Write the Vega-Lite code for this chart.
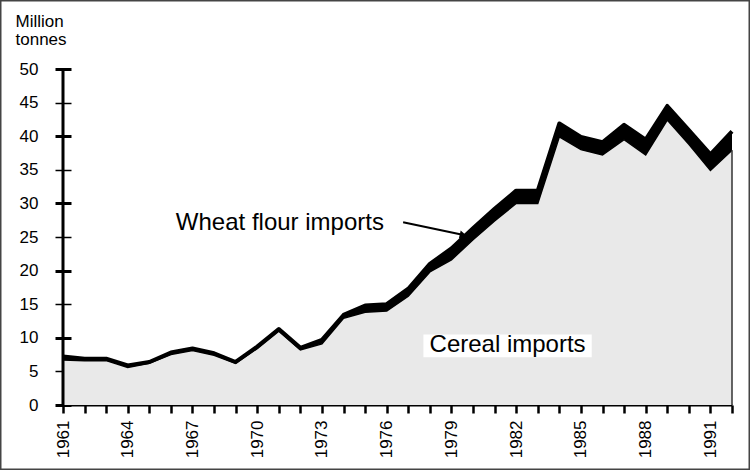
{
  "$schema": "https://vega.github.io/schema/vega-lite/v6.json",
  "width": 750,
  "height": 470,
  "autosize": "none",
  "padding": 0,
  "background": "white",
  "config": {
    "view": {"stroke": "#444444", "strokeWidth": 3},
    "font": "Liberation Sans",
    "axis": {"labelOverlap": false, "labelFlush": false, "labelBound": false, "grid": false}
  },
  "data": {"values": [
    {"year": 1961, "total": 7.2, "cereal": 6.7},
    {"year": 1962, "total": 6.9, "cereal": 6.6},
    {"year": 1963, "total": 6.9, "cereal": 6.6},
    {"year": 1964, "total": 5.9, "cereal": 5.6},
    {"year": 1965, "total": 6.4, "cereal": 6.2},
    {"year": 1966, "total": 7.8, "cereal": 7.5},
    {"year": 1967, "total": 8.4, "cereal": 8.1},
    {"year": 1968, "total": 7.7, "cereal": 7.4},
    {"year": 1969, "total": 6.4, "cereal": 6.2},
    {"year": 1970, "total": 8.7, "cereal": 8.4},
    {"year": 1971, "total": 11.3, "cereal": 11.0},
    {"year": 1972, "total": 8.5, "cereal": 8.2},
    {"year": 1973, "total": 9.7, "cereal": 9.1},
    {"year": 1974, "total": 13.4, "cereal": 12.9},
    {"year": 1975, "total": 14.8, "cereal": 13.8},
    {"year": 1976, "total": 15.0, "cereal": 14.0},
    {"year": 1977, "total": 17.3, "cereal": 16.2},
    {"year": 1978, "total": 21.0, "cereal": 19.8},
    {"year": 1979, "total": 23.3, "cereal": 21.6},
    {"year": 1980, "total": 26.3, "cereal": 24.6},
    {"year": 1981, "total": 29.2, "cereal": 27.4},
    {"year": 1982, "total": 31.9, "cereal": 30.0},
    {"year": 1983, "total": 31.9, "cereal": 30.0},
    {"year": 1984, "total": 41.9, "cereal": 39.9},
    {"year": 1985, "total": 39.9, "cereal": 38.0},
    {"year": 1986, "total": 39.1, "cereal": 37.2},
    {"year": 1987, "total": 41.7, "cereal": 39.5},
    {"year": 1988, "total": 39.5, "cereal": 37.2},
    {"year": 1989, "total": 44.5, "cereal": 42.4},
    {"year": 1990, "total": 40.9, "cereal": 38.8},
    {"year": 1991, "total": 37.3, "cereal": 34.9},
    {"year": 1992, "total": 40.7, "cereal": 37.9}
  ]},
  "layer": [
    {
      "mark": {"type": "area", "color": "#e9e9e9"},
      "encoding": {
        "x": {"field": "year", "type": "quantitative",
          "scale": {"domain": [1961, 1992], "range": [63, 732], "nice": false, "zero": false},
          "axis": {"orient": "bottom", "offset": -65, "tickCount": 60,
            "values": [1961,1962,1963,1964,1965,1966,1967,1968,1969,1970,1971,1972,1973,1974,1975,1976,1977,1978,1979,1980,1981,1982,1983,1984,1985,1986,1987,1988,1989,1990,1991,1992],
            "format": "d",
            "labelExpr": "(datum.value - 1961) % 3 === 0 ? datum.label : ''",
            "labelAngle": -90, "labelFontSize": 17, "labelColor": "black", "labelPadding": 7,
            "labelOverlap": false, "labelFlush": false, "labelBound": false,
            "tickSize": 8, "tickWidth": 2.5, "tickColor": "black",
            "domainWidth": 2, "domainColor": "black", "grid": false, "title": null}},
        "y": {"field": "cereal", "type": "quantitative",
          "scale": {"domain": [0, 50], "range": [405, 69], "nice": false},
          "axis": {"orient": "left", "offset": -71, "tickCount": 20,
            "values": [0,5,10,15,20,25,30,35,40,45,50],
            "labelFontSize": 17, "labelColor": "black", "labelPadding": 17,
            "tickSize": 16, "tickColor": "black",
            "tickWidth": {"condition": {"test": "datum.value % 10 === 0", "value": 3}, "value": 1.5},
            "domain": false, "grid": false,
            "title": ["Million", "tonnes"], "titleAngle": 0, "titleAlign": "left", "titleBaseline": "top",
            "titleX": -56, "titleY": 13, "titleFontSize": 17, "titleFontWeight": "normal",
            "titleColor": "black", "titleLineHeight": 18}}
      }
    },
    {
      "mark": {"type": "area", "color": "black"},
      "encoding": {
        "x": {"field": "year", "type": "quantitative"},
        "y": {"field": "cereal", "type": "quantitative"},
        "y2": {"field": "total"}
      }
    },
    {
      "mark": {"type": "line", "color": "black", "strokeWidth": 4, "strokeJoin": "round"},
      "encoding": {
        "x": {"field": "year", "type": "quantitative"},
        "y": {"field": "total", "type": "quantitative"}
      }
    },
    {
      "mark": {"type": "line", "color": "black", "strokeWidth": 1.5},
      "encoding": {
        "x": {"field": "year", "type": "quantitative"},
        "y": {"field": "cereal", "type": "quantitative"}
      }
    },
    {
      "transform": [{"filter": "datum.year == 1992"}],
      "mark": {"type": "rule", "color": "#333333", "strokeWidth": 1.5},
      "encoding": {
        "x": {"field": "year", "type": "quantitative"},
        "y": {"field": "cereal", "type": "quantitative"},
        "y2": {"datum": 0}
      }
    },
    {
      "data": {"values": [{}]},
      "mark": {"type": "rule", "color": "black", "strokeWidth": 3},
      "encoding": {
        "x": {"datum": 1961, "type": "quantitative"},
        "y": {"datum": 0, "type": "quantitative"},
        "y2": {"datum": 50}
      }
    },
    {
      "data": {"values": [{}]},
      "mark": {"type": "rect", "color": "white"},
      "encoding": {
        "x": {"datum": 1977.7, "type": "quantitative"},
        "x2": {"datum": 1985.5},
        "y": {"datum": 10.5, "type": "quantitative"},
        "y2": {"datum": 7.1}
      }
    },
    {
      "data": {"values": [{}]},
      "mark": {"type": "text", "text": "Cereal imports", "fontSize": 24, "color": "black", "align": "center", "baseline": "alphabetic"},
      "encoding": {
        "x": {"datum": 1981.6, "type": "quantitative"},
        "y": {"datum": 7.84, "type": "quantitative"}
      }
    },
    {
      "data": {"values": [{}]},
      "mark": {"type": "text", "text": "Wheat flour imports", "fontSize": 24, "color": "black", "align": "center", "baseline": "alphabetic"},
      "encoding": {
        "x": {"datum": 1971.05, "type": "quantitative"},
        "y": {"datum": 26.04, "type": "quantitative"}
      }
    },
    {
      "data": {"values": [{}]},
      "mark": {"type": "rule", "color": "black", "strokeWidth": 2},
      "encoding": {
        "x": {"datum": 1976.76, "type": "quantitative"},
        "x2": {"datum": 1979.4},
        "y": {"datum": 27.2, "type": "quantitative"},
        "y2": {"datum": 25.4}
      }
    },
    {
      "data": {"values": [{}]},
      "mark": {"type": "point", "shape": "triangle-right", "filled": true, "color": "black", "opacity": 1, "size": 70, "angle": 12.5},
      "encoding": {
        "x": {"datum": 1979.55, "type": "quantitative"},
        "y": {"datum": 25.25, "type": "quantitative"}
      }
    }
  ]
}
